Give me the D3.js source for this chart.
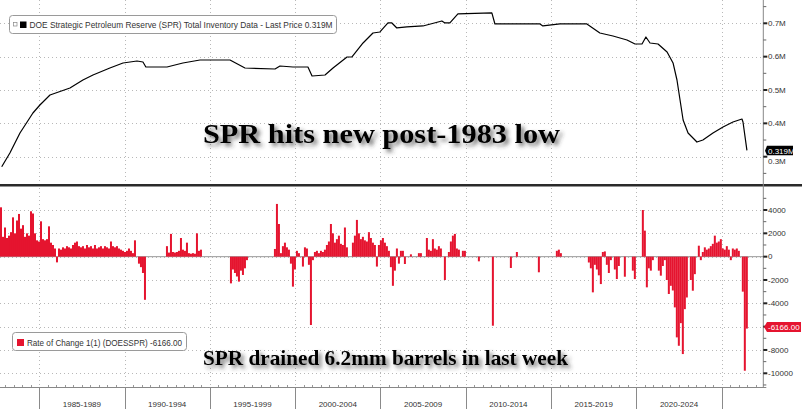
<!DOCTYPE html>
<html><head><meta charset="utf-8">
<script src="https://cdn.jsdelivr.net/npm/d3@7"></script>
<style>html,body{margin:0;padding:0;background:#fff;}svg{display:block;}</style>
</head><body><svg id="c" width="802" height="409"></svg>
<script>
// ---- data ----
const lineYears = [1982.80,1983.28,1983.87,1984.63,1985.04,1985.63,1986.80,1987.56,1988.15,1989.14,1989.91,1990.73,1991.08,1991.25,1992.49,1993.42,1994.42,1996.18,1997.06,1998.82,1999.11,1999.87,2000.75,2000.99,2001.75,2002.22,2003.04,2003.33,2003.98,2004.56,2004.97,2005.44,2005.67,2005.96,2006.55,2007.49,2008.60,2008.78,2009.07,2009.54,2011.53,2011.71,2014.35,2014.52,2015.52,2017.10,2017.86,2018.63,2019.45,2019.92,2020.33,2020.56,2020.80,2021.27,2021.80,2022.15,2022.38,2022.56,2022.74,2023.03,2023.55,2023.90,2024.49,2025.08,2025.66,2026.19,2026.25,2026.48];
const lineValues = [0.270,0.311,0.371,0.431,0.455,0.485,0.506,0.530,0.545,0.566,0.581,0.587,0.584,0.569,0.569,0.581,0.590,0.590,0.566,0.563,0.572,0.569,0.569,0.542,0.545,0.566,0.599,0.599,0.641,0.671,0.674,0.701,0.701,0.686,0.689,0.692,0.707,0.701,0.701,0.728,0.731,0.698,0.698,0.692,0.698,0.698,0.671,0.662,0.650,0.638,0.638,0.659,0.641,0.638,0.614,0.581,0.530,0.470,0.410,0.371,0.344,0.350,0.371,0.389,0.404,0.413,0.404,0.319];

const barStartYear = 1982.70;
const barStepYears = 0.1172;
const rateOfChange = [
4230,1700,2500,1600,1800,2100,3370,2000,3100,3660,
2400,2700,1700,2000,1800,3890,3700,2000,1400,1300,
3030,1500,1400,1500,2600,1200,1000,700,-490,700,
600,800,700,900,800,700,1000,1200,1300,900,
800,900,700,1000,800,900,700,1000,700,800,
900,700,900,800,700,1300,900,800,900,700,
600,500,400,500,700,500,300,1400,0,-600,
-900,-1400,-3700,0,0,0,0,0,0,0,
0,0,0,900,350,1950,400,350,400,500,
1600,600,500,1200,300,250,300,250,2000,500,
600,0,0,0,0,0,0,0,0,0,
0,0,0,0,0,-2290,-1100,-1400,-1700,-2140,
-1200,-1570,-1000,-300,0,0,0,0,0,0,
0,0,0,0,0,0,0,660,4520,2800,
300,900,1200,800,600,-600,-2570,-1100,500,300,
0,-850,800,700,-700,-5860,-300,400,500,300,
500,400,600,1000,1300,2800,2000,1200,1500,1800,
1100,1000,2500,800,0,0,1200,1800,3150,2000,
1500,1700,1400,1300,2100,1600,1200,1000,-850,1000,
1400,1600,1200,900,500,-900,-2500,-1200,700,-600,
500,500,-630,0,0,200,0,0,0,300,
300,0,0,1600,600,500,1500,700,600,900,
700,0,-2000,0,400,1300,1800,1950,700,600,
0,500,500,0,0,0,0,0,0,-400,
0,0,0,0,0,0,-5920,0,0,0,
0,0,0,0,0,-970,0,0,400,0,
0,0,0,0,0,0,0,0,0,-1340,
0,0,0,0,0,0,0,0,500,600,
300,0,0,0,0,0,0,0,0,0,
0,0,0,0,-500,-1000,-3060,-700,-1100,-1600,
-2350,400,450,-700,-1400,-300,0,-1100,-1920,-800,
0,0,-1720,0,0,0,-1200,-1920,0,0,
0,4000,2230,-2630,-1000,-1200,-300,0,0,-1200,
-1630,-800,-300,-2000,-3200,-2500,-2900,-4350,-6920,-7640,
-5700,-8350,-4500,-3500,0,-2000,-2920,-1500,0,940,
-300,400,800,600,700,900,1100,1800,1200,1300,
1500,700,600,900,600,-300,700,600,700,500,
0,-3000,-9780,-6166];

const topTicks = [0.3,0.4,0.5,0.6,0.7];
const topTickLabels = ["0.3M","0.4M","0.5M","0.6M","0.7M"];
const topMinorTicks = [0.25,0.35,0.45,0.55,0.65,0.75];
const bottomTicks = [-10000,-8000,-6000,-4000,-2000,0,2000,4000];
const bottomTickLabels = ["-10000","-8000","","-4000","-2000","0","2000","4000"];
const bottomMinorTicks = [-11000,-9000,-7000,-5000,-3000,-1000,1000,3000,5000];
const periodBounds = [1985,1990,1995,2000,2005,2010,2015,2020,2025];
const periodLabels = ["1985-1989","1990-1994","1995-1999","2000-2004","2005-2009","2010-2014","2015-2019","2020-2024"];
const topLegendText = "DOE Strategic Petroleum Reserve (SPR) Total Inventory Data - Last Price 0.319M";
const bottomLegendText = "Rate of Change 1(1) (DOESSPR) -6166.00";
const lastPriceLabel = "0.319M";
const lastPriceValue = 0.319;
const lastChangeLabel = "-6166.00";
const lastChangeValue = -6166;
const title1 = "SPR hits new post-1983 low";
const title2 = "SPR drained 6.2mm barrels in last week";

// ---- drawing ----
const svg = d3.select("#c");
const W = 802, H = 409;
const axisX = 763.3, axisBottom = 387;
const x = d3.scaleLinear().domain([1982.70, 2027.44]).range([0, axisX]);
const yT = d3.scaleLinear().domain([0.3, 0.7]).range([156.7, 23.3]);
const yB = d3.scaleLinear().domain([-10000, 4000]).range([373.3, 210]);
const font = "'Liberation Sans', Arial, sans-serif";
const red = "#e5142f";

const defs = svg.append("defs");
const f = defs.append("filter").attr("id","sh").attr("x","-10%").attr("y","-30%").attr("width","130%").attr("height","180%");
f.append("feDropShadow").attr("dx",3).attr("dy",3).attr("stdDeviation",2.2).attr("flood-color","#333").attr("flood-opacity",0.7);

svg.append("rect").attr("width",W).attr("height",H).attr("fill","#fff");

const grid = svg.append("g").attr("stroke","#b8b8b8").attr("stroke-width",1).attr("stroke-dasharray","1,3");
grid.selectAll(".v").data(periodBounds).join("line")
  .attr("x1",d=>Math.round(x(d))+0.5).attr("x2",d=>Math.round(x(d))+0.5)
  .attr("y1",0).attr("y2",axisBottom);
grid.selectAll(".ht").data(topTicks).join("line")
  .attr("x1",0).attr("x2",axisX).attr("y1",d=>Math.round(yT(d))+0.5).attr("y2",d=>Math.round(yT(d))+0.5);
grid.selectAll(".hb").data(bottomTicks).join("line")
  .attr("x1",0).attr("x2",axisX).attr("y1",d=>Math.round(yB(d))+0.5).attr("y2",d=>Math.round(yB(d))+0.5);

// zero line
svg.append("line").attr("x1",0).attr("x2",axisX).attr("y1",yB(0)).attr("y2",yB(0))
  .attr("stroke","#9a9a9a").attr("stroke-width",1);

// bars
const bw = x(barStartYear + barStepYears) - x(barStartYear);
const bars = rateOfChange.map((v,i)=>({t: barStartYear + i*barStepYears, v})).filter(d=>d.v!==0);
svg.append("g").selectAll("rect").data(bars).join("rect")
  .attr("x",d=>x(d.t)).attr("width",bw)
  .attr("y",d=>yB(Math.max(0,d.v))).attr("height",d=>Math.abs(yB(d.v)-yB(0)))
  .attr("fill",red);

// line
const pts = lineYears.map((t,i)=>[t,lineValues[i]]);
svg.append("path").datum(pts)
  .attr("d", d3.line().x(d=>x(d[0])).y(d=>yT(d[1])))
  .attr("fill","none").attr("stroke","#000").attr("stroke-width",1.2).attr("stroke-linejoin","round");

// separator
svg.append("rect").attr("x",0).attr("y",184).attr("width",W).attr("height",2.5).attr("fill","#2a2a2a");

// right axis
svg.append("line").attr("x1",axisX).attr("x2",axisX).attr("y1",0).attr("y2",axisBottom).attr("stroke","#888");
const rA = svg.append("g");
rA.selectAll(".tmj").data(topTicks).join("rect")
  .attr("x",axisX).attr("y",d=>yT(d)-1).attr("width",4).attr("height",2).attr("fill","#222");
rA.selectAll(".tmn").data(topMinorTicks).join("line")
  .attr("x1",axisX).attr("x2",axisX+3).attr("y1",d=>yT(d)).attr("y2",d=>yT(d)).attr("stroke","#666");
rA.selectAll(".bmj").data(bottomTicks).join("rect")
  .attr("x",axisX).attr("y",d=>yB(d)-1).attr("width",4).attr("height",2).attr("fill","#222");
rA.selectAll(".bmn").data(bottomMinorTicks).join("line")
  .attr("x1",axisX).attr("x2",axisX+3).attr("y1",d=>yB(d)).attr("y2",d=>yB(d)).attr("stroke","#666");
// label for the lowest top tick sits just under the last-price flag
rA.selectAll(".tl").data(topTicks).join("text")
  .attr("x",768).attr("y",d=>d===0.3 ? yT(d)+4.5 : yT(d)).attr("dy","0.35em").attr("font-family",font).attr("font-size",8)
  .attr("fill","#333").text((d,i)=>topTickLabels[i]);
rA.selectAll(".bl").data(bottomTicks).join("text")
  .attr("x",768).attr("y",d=>yB(d)).attr("dy","0.35em").attr("font-family",font).attr("font-size",8)
  .attr("fill","#333").text((d,i)=>bottomTickLabels[i]);

// last value flags
const lpY = yT(lastPriceValue) + 0.5;
svg.append("path").attr("d",`M765,${lpY} L767,${lpY-5} L793,${lpY-5} L793,${lpY+4.5} L767,${lpY+4.5} Z`).attr("fill","#000");
svg.append("text").attr("x",768).attr("y",lpY).attr("dy","0.33em").attr("font-family",font).attr("font-size",8)
  .attr("fill","#fff").text(lastPriceLabel);
const lcY = yB(lastChangeValue) - 1.5;
svg.append("path").attr("d",`M764,${lcY} L767,${lcY-5} L801,${lcY-5} L801,${lcY+5} L767,${lcY+5} Z`).attr("fill",red);
svg.append("text").attr("x",768).attr("y",lcY).attr("dy","0.35em").attr("font-family",font).attr("font-size",8)
  .attr("fill","#fff").text(lastChangeLabel);

// x axis
svg.append("line").attr("x1",0).attr("x2",axisX+3).attr("y1",axisBottom+0.5).attr("y2",axisBottom+0.5).attr("stroke","#888");
const halfYears = d3.range(0, 90).map(i=>1983 + i*0.5).filter(t=>t<2027.4 && !periodBounds.includes(t));
svg.append("g").selectAll("line").data(halfYears).join("line")
  .attr("x1",d=>Math.round(x(d))+0.5).attr("x2",d=>Math.round(x(d))+0.5).attr("y1",axisBottom-2).attr("y2",axisBottom)
  .attr("stroke","#999");
svg.append("g").selectAll("line").data(periodBounds).join("line")
  .attr("x1",d=>Math.round(x(d))+0.5).attr("x2",d=>Math.round(x(d))+0.5).attr("y1",axisBottom).attr("y2",H)
  .attr("stroke","#8a8a8a");
svg.append("g").selectAll("text").data(periodLabels).join("text")
  .attr("x",(d,i)=>(x(periodBounds[i])+x(periodBounds[i+1]))/2).attr("y",404).attr("dy","0.35em")
  .attr("text-anchor","middle").attr("font-family",font).attr("font-size",8).attr("fill","#333").text(d=>d);

// legends
const lg1 = svg.append("g");
lg1.append("rect").attr("x",9.5).attr("y",15.5).attr("width",327).attr("height",18).attr("rx",3)
  .attr("fill","#fff").attr("stroke","#9a9a9a");
lg1.append("rect").attr("x",13.5).attr("y",22.5).attr("width",3.5).attr("height",3.5).attr("fill","none").attr("stroke","#888").attr("stroke-width",0.7);
lg1.append("rect").attr("x",20).attr("y",21.5).attr("width",6.5).attr("height",6.5).attr("fill","#000");
lg1.append("text").attr("x",29.5).attr("y",28).attr("font-family",font).attr("font-size",8.5).attr("fill","#333")
  .attr("textLength",303).attr("lengthAdjust","spacingAndGlyphs").text(topLegendText);

const lg2 = svg.append("g");
lg2.append("rect").attr("x",12.5).attr("y",332.5).attr("width",174).attr("height",18).attr("rx",3)
  .attr("fill","#fff").attr("stroke","#9a9a9a");
lg2.append("rect").attr("x",17).attr("y",339).attr("width",7).attr("height",7).attr("fill",red);
lg2.append("text").attr("x",27).attr("y",345.5).attr("font-family",font).attr("font-size",8.5).attr("fill","#333")
  .attr("textLength",155).attr("lengthAdjust","spacingAndGlyphs").text(bottomLegendText);

// titles
svg.append("text").attr("x",203).attr("y",143).attr("font-family","'Liberation Serif','Times New Roman',serif")
  .attr("font-weight","bold").attr("font-size",27).attr("fill","#000").attr("filter","url(#sh)")
  .attr("textLength",357).attr("lengthAdjust","spacingAndGlyphs").text(title1);
svg.append("text").attr("x",203).attr("y",365).attr("font-family","'Liberation Serif','Times New Roman',serif")
  .attr("font-weight","bold").attr("font-size",21).attr("fill","#000").attr("filter","url(#sh)")
  .attr("textLength",365).attr("lengthAdjust","spacingAndGlyphs").text(title2);
</script></body></html>
